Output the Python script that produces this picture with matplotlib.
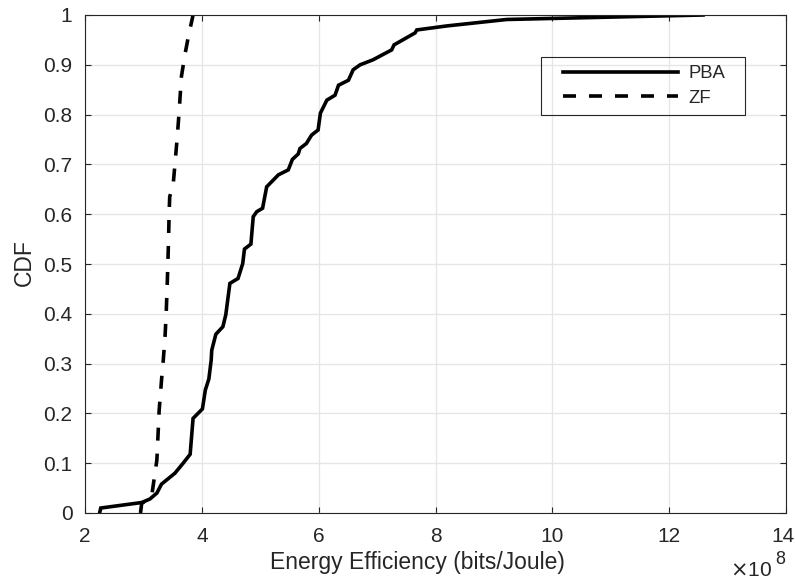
import matplotlib
matplotlib.use("Agg")
import matplotlib.pyplot as plt
import matplotlib.transforms as mtransforms
from matplotlib.patches import Rectangle

plt.rcParams['font.family'] = ['Liberation Sans', 'DejaVu Sans']

# Energy efficiency (in units of 1e8 bits/Joule) and empirical CDF values
pba_x = [2.25, 2.27, 2.97, 3.11, 3.23, 3.31, 3.54, 3.68, 3.80, 3.85, 4.01, 4.06,
         4.12, 4.16, 4.17, 4.24, 4.36, 4.41, 4.48, 4.62, 4.70, 4.73, 4.84, 4.88,
         4.94, 5.04, 5.11, 5.31, 5.48, 5.55, 5.65, 5.68, 5.79, 5.88, 5.99, 6.03,
         6.14, 6.28, 6.34, 6.51, 6.59, 6.71, 6.93, 7.25, 7.29, 7.65, 7.68, 8.19,
         9.22, 12.58]
pba_cdf = [0.00, 0.01, 0.021, 0.028, 0.04, 0.058, 0.08, 0.10, 0.118, 0.19, 0.209,
           0.247, 0.269, 0.307, 0.327, 0.359, 0.374, 0.398, 0.461, 0.471, 0.501,
           0.530, 0.540, 0.595, 0.605, 0.612, 0.655, 0.679, 0.689, 0.710, 0.721,
           0.732, 0.742, 0.759, 0.769, 0.803, 0.829, 0.839, 0.859, 0.869, 0.890,
           0.900, 0.910, 0.930, 0.940, 0.964, 0.970, 0.978, 0.991, 1.00]

zf_x = [2.95, 2.97, 3.14, 3.23, 3.27, 3.31, 3.34, 3.37, 3.39, 3.41, 3.43, 3.44,
        3.45, 3.51, 3.57, 3.61, 3.65, 3.71, 3.77, 3.85]
zf_cdf = [0.00, 0.019, 0.033, 0.106, 0.207, 0.267, 0.307, 0.354, 0.401, 0.468,
          0.548, 0.602, 0.635, 0.66, 0.742, 0.803, 0.876, 0.920, 0.957, 1.00]

x_ticks = [2, 4, 6, 8, 10, 12, 14]
y_ticks = [0, 0.1, 0.2, 0.3, 0.4, 0.5, 0.6, 0.7, 0.8, 0.9, 1]
y_tick_labels = ['0', '0.1', '0.2', '0.3', '0.4', '0.5', '0.6', '0.7', '0.8', '0.9', '1']

W, H = 795, 581
axis_color = '#262626'
fig = plt.figure(figsize=(W / 100, H / 100), dpi=100)
ax = fig.add_axes([85 / W, 1 - 513 / H, 701 / W, 498 / H])

ax.plot(pba_x, pba_cdf, color='black', linewidth=2.6, label='PBA',
        solid_joinstyle='miter')
ax.plot(zf_x, zf_cdf, color='black', linewidth=2.6, linestyle=(0, (3.6, 3.6)),
        label='ZF')

ax.set_xlim(2, 14)
ax.set_ylim(0, 1)
ax.set_xticks(x_ticks)
ax.set_xticklabels([str(t) for t in x_ticks])
ax.set_yticks(y_ticks)
ax.set_yticklabels(y_tick_labels)

ax.grid(True, color='#e6e6e6', linewidth=1.0)
ax.set_axisbelow(True)
for side in ['left', 'bottom', 'top', 'right']:
    ax.spines[side].set_color(axis_color)
    ax.spines[side].set_linewidth(0.8)
ax.tick_params(axis='both', direction='in', length=4, width=0.8, color=axis_color,
               labelcolor=axis_color, labelsize=15, top=True, right=True)
ax.tick_params(axis='x', pad=10)
ax.tick_params(axis='y', pad=9)

# keep the last x tick label inside the figure edge
last_label = ax.get_xticklabels()[-1]
last_label.set_transform(last_label.get_transform() +
                         mtransforms.ScaledTranslation(-3 / 100, 0, fig.dpi_scale_trans))

ax.set_xlabel('Energy Efficiency (bits/Joule)', fontsize=16.5, color=axis_color)
ax.xaxis.set_label_coords((417.5 - 85) / 701, -(562 - 513) / 498)
ax.xaxis.label.set_va('center')
ax.set_ylabel('CDF', fontsize=16.5, color=axis_color)
ax.yaxis.set_label_coords(-(85 - 24) / 701, (513 - 263) / 498)
ax.yaxis.label.set_va('center')

# axis multiplier shown below the right end of the x axis
fig.text(772 / W, 1 - 576 / H, r'$\times$10', fontsize=15, color=axis_color,
         ha='right', va='baseline')
fig.text(775 / W, 1 - 564 / H, '8', fontsize=13, color=axis_color,
         ha='left', va='baseline')

leg = ax.legend(loc='center left', bbox_to_anchor=(563 / W, 1 - 86 / H),
                bbox_transform=fig.transFigure, borderaxespad=0, borderpad=0,
                fontsize=13.3, handlelength=6.2, handletextpad=0.6,
                labelspacing=0.41, frameon=False)
for t in leg.get_texts():
    t.set_color(axis_color)

# legend frame
fig.patches.append(Rectangle((541 / W, 1 - 115 / H), 204 / W, 58 / H,
                             transform=fig.transFigure, facecolor='none',
                             edgecolor=axis_color, linewidth=0.8, zorder=5))

fig.savefig('out.png', dpi=100)
